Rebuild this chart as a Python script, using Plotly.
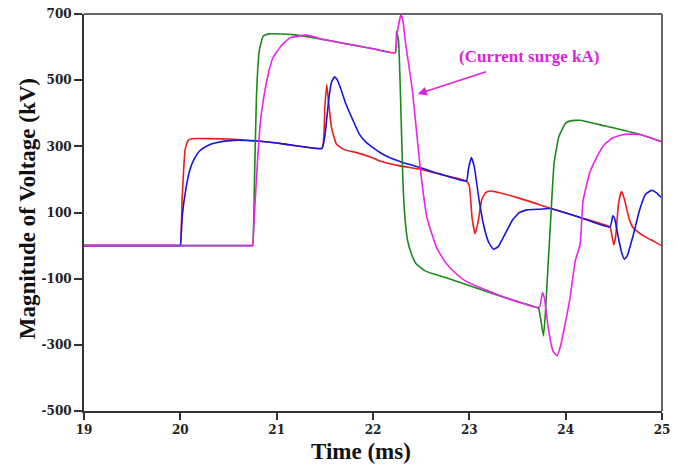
import plotly.graph_objects as go

# ---- data ----
red_t = [19.0, 19.5, 19.9, 19.99, 20.0, 20.02, 20.05, 20.08, 20.12, 20.5, 20.8, 21.0, 21.2, 21.47, 21.5, 21.52,
         21.54, 21.57, 21.62, 21.7, 21.83, 22.0, 22.07, 22.28, 22.49, 22.69, 22.97, 23.0, 23.03, 23.06, 23.09,
         23.13, 23.17, 23.22, 23.5, 23.84, 24.15, 24.46, 24.48, 24.5, 24.52, 24.55, 24.58, 24.61, 24.66, 24.7,
         24.78, 24.84, 24.92, 25.0]
red_v = [0, 0, 0, 0, 0, 150, 290, 318, 323, 322, 316, 310, 302, 294, 420, 487,
         430, 356, 307, 290, 281, 265, 256, 241, 231, 216, 195, 180, 80, 36, 70,
         140, 160, 165, 145, 113, 85, 56, 30, 2, 30, 130, 163, 140, 80, 54,
         35, 24, 12, -1]

blue_t = [19.0, 19.5, 19.9, 19.99, 20.0, 20.02, 20.06, 20.1, 20.15, 20.2, 20.28, 20.37, 20.55, 20.8, 21.0,
          21.2, 21.47, 21.5, 21.54, 21.57, 21.6, 21.63, 21.67, 21.72, 21.79, 21.86, 21.93, 22.0, 22.08, 22.17,
          22.3, 22.52, 22.69, 22.97, 22.99, 23.02, 23.05, 23.1, 23.15, 23.2, 23.25, 23.3, 23.38, 23.45, 23.52,
          23.6, 23.73, 23.84, 24.15, 24.46, 24.49, 24.51, 24.55, 24.58, 24.61, 24.64, 24.7, 24.77, 24.83,
          24.89, 24.94, 25.0]
blue_v = [0, 0, 0, 0, 0, 90, 175, 230, 265, 286, 302, 311, 318, 316, 310,
          302, 294, 330, 440, 495, 510, 500, 470, 427, 380, 336, 312, 296, 280, 266,
          252, 233, 217, 195, 230, 266, 240, 140, 60, 10, -11, -3, 40, 78, 100,
          108, 110, 112, 85, 56, 90, 80, 20, -20, -41, -30, 30, 110, 155,
          167, 160, 143]

green_t = [19.0, 20.0, 20.6, 20.74, 20.75, 20.77, 20.79, 20.82, 20.86, 20.92, 21.2, 21.5, 21.8, 22.0, 22.23,
           22.245, 22.265, 22.28, 22.3, 22.31, 22.33, 22.36, 22.4, 22.45, 22.55, 22.76, 23.11, 23.4, 23.7,
           23.72, 23.77, 23.79, 23.82, 23.84, 23.88, 23.93, 24.0, 24.05, 24.15, 24.4, 24.77, 25.0]
green_v = [0, 0, 0, 0, 0, 200, 450, 590, 633, 640, 637, 622, 606, 595, 583,
           648, 620, 507, 300, 200, 90, 14, -26, -56, -78, -97, -132, -160, -187,
           -190, -273, -200, -46, 54, 250, 330, 370, 377, 379, 362, 336, 314]

magenta_t = [19.0, 20.0, 20.6, 20.74, 20.75, 20.77, 20.8, 20.83, 20.86, 20.91, 20.96, 21.05, 21.14, 21.31,
             21.5, 22.0, 22.23, 22.25, 22.29, 22.31, 22.34, 22.41, 22.49, 22.56, 22.66, 22.75, 22.83, 22.95,
             23.11, 23.4, 23.7, 23.73, 23.76, 23.78, 23.82, 23.87, 23.91, 23.95, 24.04, 24.1, 24.15, 24.18,
             24.25, 24.32, 24.4, 24.49, 24.6, 24.77, 25.0]
magenta_v = [0, 0, 0, 0, 0, 100, 250, 370, 437, 515, 567, 605, 628, 636,
             622, 595, 583, 640, 698, 680, 608, 467, 235, 85, -6, -50, -76, -105,
             -127, -160, -187, -185, -142, -160, -250, -320, -333, -300, -167, -46, 4, 135,
             220, 266, 305, 326, 336, 336, 314]

x_ticks = [19, 20, 21, 22, 23, 24, 25]
y_ticks = [-500, -300, -100, 100, 300, 500, 700]
y_tick_labels = ["-500", "-300", "-100", "100", "300", "500", "700"]

fig = go.Figure()
for t, v, c in [(red_t, red_v, "#ee1c1c"), (blue_t, blue_v, "#1616e0"),
                (green_t, green_v, "#1a8a1a"), (magenta_t, magenta_v, "#ee22ee")]:
    fig.add_trace(go.Scatter(x=t, y=v, mode="lines",
                             line=dict(color=c, width=1.6, shape="spline", smoothing=0.4),
                             showlegend=False, hoverinfo="skip"))

tickfont = dict(family="DejaVu Serif", size=12, color="#222", weight="bold")
fig.update_xaxes(range=[19, 25], tickvals=x_ticks, ticks="outside", ticklen=7, tickwidth=2,
                 tickcolor="#333", showline=True, linecolor="#333", linewidth=2,
                 showgrid=False, zeroline=False, tickfont=tickfont, automargin=False,
                 ticklabeloverflow="allow")
fig.update_yaxes(range=[-500, 700], tickvals=y_ticks, ticktext=y_tick_labels, ticks="outside",
                 ticklen=8, tickwidth=2, tickcolor="#333", showline=True, linecolor="#333",
                 linewidth=2, showgrid=False, zeroline=False, tickfont=tickfont, automargin=False,
                 ticklabeloverflow="allow")

fig.add_shape(type="line", xref="paper", yref="paper", x0=0, x1=1, y0=1, y1=1,
              line=dict(color="#666", width=2))
fig.add_shape(type="line", xref="paper", yref="paper", x0=1, x1=1, y0=0, y1=1,
              line=dict(color="#666", width=2))

titlefont = dict(family="Liberation Serif", size=23, color="#111", weight="bold")
fig.add_annotation(text="Magnitude of Voltage (kV)", xref="paper", yref="paper",
                   x=-0.0986, y=0.508, textangle=-90, showarrow=False, font=titlefont,
                   xanchor="center", yanchor="middle")
fig.add_annotation(text="Time (ms)", xref="paper", yref="paper",
                   x=0.48, y=-0.103, showarrow=False, font=titlefont,
                   xanchor="center", yanchor="middle")
fig.add_annotation(text="(Current surge kA)", xref="x", yref="y", x=23.62, y=572,
                   showarrow=False, xanchor="center", yanchor="middle",
                   font=dict(family="Liberation Serif", size=17, color="#e020e0", weight="bold"))
fig.add_annotation(text="", xref="x", yref="y", x=22.465, y=458,
                   axref="x", ayref="y", ax=23.19, ay=527, showarrow=True,
                   arrowhead=2, arrowsize=1.2, arrowwidth=1.5, arrowcolor="#e020e0")

# page body adds an 8px margin, so the figure is 8px smaller than the window
fig.update_layout(width=670, height=456, margin=dict(l=76, r=16, t=6, b=53),
                  plot_bgcolor="white", paper_bgcolor="white")

fig.write_html("out.html")
